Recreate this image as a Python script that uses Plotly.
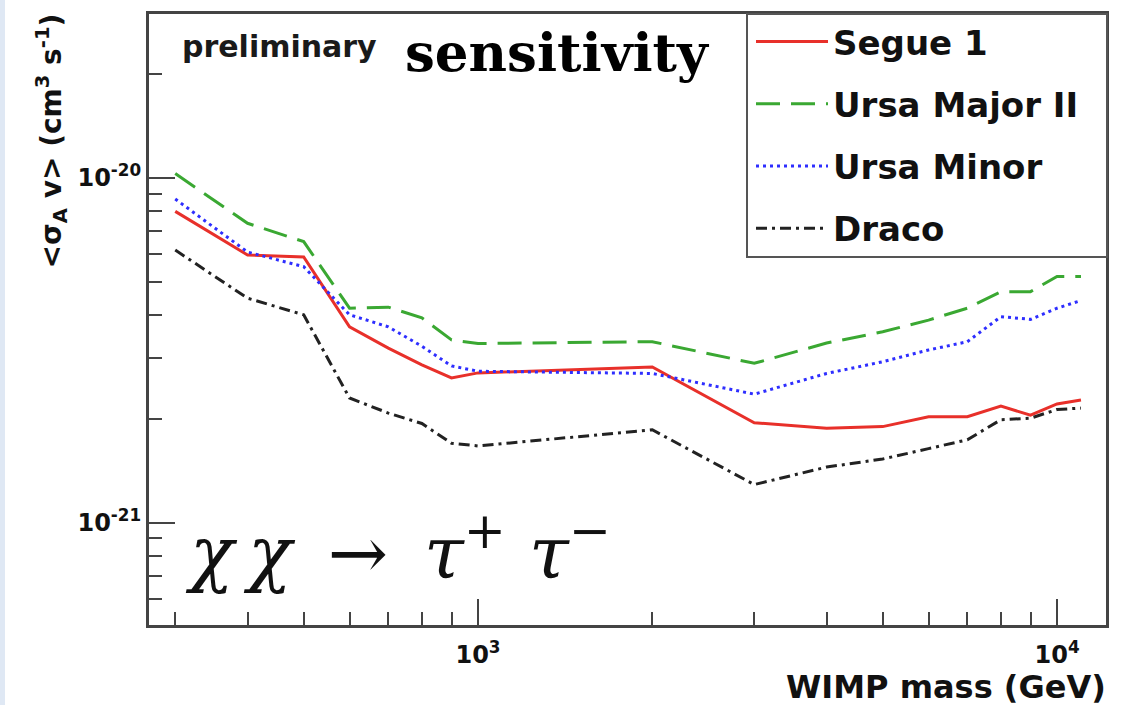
import plotly.graph_objects as go

# ---------------- data ----------------
mass_gev = [300, 400, 500, 600, 700, 800, 900, 1000, 2000, 3000,
            4000, 5000, 6000, 7000, 8000, 9000, 10000, 11000]

segue1 = [8.0e-21, 5.98e-21, 5.9e-21, 3.70e-21, 3.21e-21, 2.87e-21, 2.63e-21, 2.72e-21,
          2.83e-21, 1.95e-21, 1.88e-21, 1.90e-21, 2.03e-21, 2.03e-21, 2.18e-21, 2.05e-21,
          2.21e-21, 2.27e-21]
ursa_major2 = [1.03e-20, 7.39e-21, 6.54e-21, 4.19e-21, 4.22e-21, 3.93e-21, 3.39e-21, 3.31e-21,
               3.35e-21, 2.90e-21, 3.32e-21, 3.58e-21, 3.87e-21, 4.19e-21, 4.68e-21, 4.68e-21,
               5.18e-21, 5.18e-21]
ursa_minor = [8.69e-21, 6.1e-21, 5.53e-21, 4.01e-21, 3.70e-21, 3.25e-21, 2.85e-21, 2.75e-21,
              2.71e-21, 2.36e-21, 2.71e-21, 2.93e-21, 3.17e-21, 3.35e-21, 3.96e-21, 3.89e-21,
              4.19e-21, 4.41e-21]
draco = [6.18e-21, 4.48e-21, 4.01e-21, 2.30e-21, 2.08e-21, 1.94e-21, 1.70e-21, 1.67e-21,
         1.86e-21, 1.29e-21, 1.45e-21, 1.53e-21, 1.64e-21, 1.74e-21, 1.99e-21, 2.01e-21,
         2.13e-21, 2.15e-21]

series_names = ["Segue 1", "Ursa Major II", "Ursa Minor", "Draco"]

x_major_vals = [1e3, 1e4]
x_major_text = ["10<sup>3</sup>", "10<sup>4</sup>"]
x_minor_vals = [300, 400, 500, 600, 700, 800, 900,
                2000, 3000, 4000, 5000, 6000, 7000, 8000, 9000]
y_major_vals = [1e-21, 1e-20]
y_major_text = ["10<sup>-21</sup>", "10<sup>-20</sup>"]
y_minor_vals = [6e-22, 7e-22, 8e-22, 9e-22,
                2e-21, 3e-21, 4e-21, 5e-21, 6e-21, 7e-21, 8e-21, 9e-21, 2e-20]

# ---------------- styling ----------------
W, H = 1127, 705
ML, MR, MT, MB = 149, 21, 14, 80
PW, PH = W - ML - MR, H - MT - MB


def px_x(px):
    return (px - ML) / PW


def px_y(py):
    return (H - MB - py) / PH


SANS = "DejaVu Sans"
AXIS_COL = "#444444"

styles = [
    dict(color="#e8302a", dash="solid"),
    dict(color="#3aa832", dash="24px,11px"),
    dict(color="#2e2eff", dash="3px,4px"),
    dict(color="#222222", dash="11px,5px,3px,5px"),
]
series_vals = [segue1, ursa_major2, ursa_minor, draco]

fig = go.Figure()
for name, vals, st in zip(series_names, series_vals, styles):
    fig.add_trace(go.Scatter(
        x=mass_gev, y=vals, name=name, mode="lines", legendgroup=name,
        line=dict(color=st["color"], dash=st["dash"], width=3),
    ))

fig.update_layout(
    width=W, height=H,
    margin=dict(l=ML, r=MR, t=MT, b=MB),
    paper_bgcolor="white", plot_bgcolor="white",
    showlegend=True,
    legend=dict(
        x=px_x(751), y=px_y(13), xanchor="left", yanchor="top",
        bgcolor="rgba(0,0,0,0)", borderwidth=0,
        font=dict(family=SANS, size=34, color="#111111", weight="bold"),
        tracegroupgap=15, itemwidth=72,
    ),
    xaxis=dict(
        type="log", range=[2.4318, 4.0846],
        showline=True, linewidth=3, linecolor=AXIS_COL, mirror=True,
        showgrid=False, zeroline=False,
        ticks="inside", ticklen=26, tickwidth=2, tickcolor=AXIS_COL,
        tickmode="array", tickvals=x_major_vals, ticktext=x_major_text,
        tickfont=dict(family=SANS, size=24, color="#111111", weight="bold"),
        ticklabelstandoff=6,
        minor=dict(tickmode="array", tickvals=x_minor_vals, ticks="inside",
                   ticklen=13, tickwidth=2, tickcolor=AXIS_COL, showgrid=False),
    ),
    yaxis=dict(
        type="log", range=[-21.2968, -19.5242],
        showline=True, linewidth=3, linecolor=AXIS_COL, mirror=True,
        showgrid=False, zeroline=False,
        ticks="inside", ticklen=26, tickwidth=2, tickcolor=AXIS_COL,
        tickmode="array", tickvals=y_major_vals, ticktext=y_major_text,
        tickfont=dict(family=SANS, size=24, color="#111111", weight="bold"),
        minor=dict(tickmode="array", tickvals=y_minor_vals, ticks="inside",
                   ticklen=13, tickwidth=2, tickcolor=AXIS_COL, showgrid=False),
    ),
)

annotations = [
    dict(text="preliminary", x=px_x(180), y=px_y(47), xanchor="left", yanchor="middle",
         font=dict(family=SANS, size=30, color="#1a1a1a", weight="bold")),
    dict(text="sensitivity", x=px_x(403), y=px_y(52), xanchor="left", yanchor="middle",
         font=dict(family="DejaVu Serif", size=53, color="#000000", weight="bold")),
    dict(text="χ\u2009χ\u2002→\u2002τ<sup>+</sup> τ<sup>−</sup>", x=px_x(183), y=px_y(548),
         xanchor="left", yanchor="middle",
         font=dict(family="DejaVu Serif", size=72, color="#111111", style="italic")),
    dict(text="WIMP mass (GeV)", x=px_x(1108), y=px_y(687), xanchor="right", yanchor="middle",
         font=dict(family=SANS, size=32, color="#111111", weight="bold")),
    dict(text="&lt;σ<sub>A</sub> v&gt; (cm<sup>3</sup> s<sup>-1</sup>)",
         x=px_x(52), y=px_y(12), xanchor="center", yanchor="top", textangle=-90,
         font=dict(family=SANS, size=28, color="#111111", weight="bold")),
]
for a in annotations:
    a.update(xref="paper", yref="paper", showarrow=False)
fig.update_layout(annotations=annotations)

# faint blue strip at the left edge of the slide
fig.add_shape(type="rect", xref="paper", yref="paper",
              x0=px_x(0), x1=px_x(5), y0=px_y(H), y1=px_y(0),
              fillcolor="#dfe8f4", line=dict(width=0), layer="below")
# legend frame
fig.add_shape(type="rect", xref="paper", yref="paper",
              x0=px_x(747), x1=px_x(1107), y0=px_y(257), y1=px_y(14),
              fillcolor="white", line=dict(width=2, color="#555555"), layer="above")

fig.write_html("out.html")
